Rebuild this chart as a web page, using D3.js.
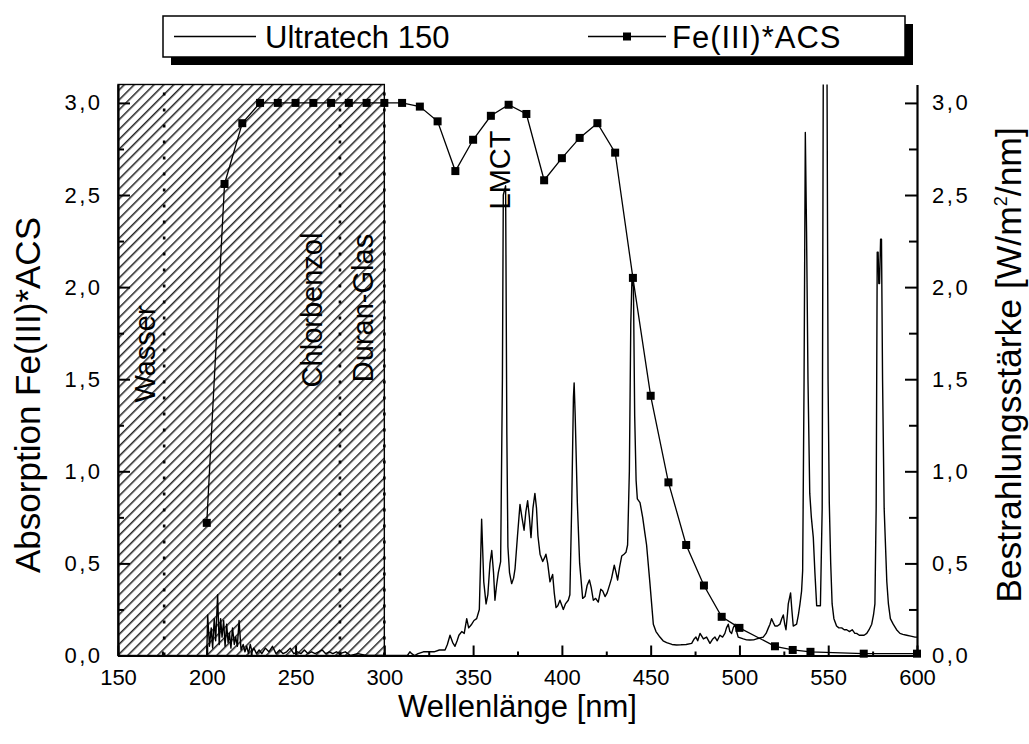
<!DOCTYPE html>
<html>
<head>
<meta charset="utf-8">
<script src="https://cdn.jsdelivr.net/npm/d3@7"></script>
<style>
  html, body { margin: 0; padding: 0; background: #fff; }
  svg { display: block; font-family: "Liberation Sans", Arial, sans-serif; }
</style>
</head>
<body>
<svg id="chart" width="1029" height="744"></svg>
<script>
// ---------------- data ----------------
const xTicks = [150, 200, 250, 300, 350, 400, 450, 500, 550, 600];
const yTicks = [0, 0.5, 1.0, 1.5, 2.0, 2.5, 3.0];

// Fe(III)*ACS absorption (left axis)
const feX = [200, 210, 220, 230, 240, 250, 260, 270, 280, 290, 300, 310, 320, 330, 340, 350, 360, 370, 380, 390, 400, 410, 420, 430, 440, 450, 460, 470, 480, 490, 500, 520, 530, 540, 570, 600];
const feY = [0.72, 2.56, 2.89, 3.0, 3.0, 3.0, 3.0, 3.0, 3.0, 3.0, 3.0, 3.0, 2.98, 2.90, 2.63, 2.80, 2.93, 2.99, 2.94, 2.58, 2.70, 2.81, 2.89, 2.73, 2.05, 1.41, 0.94, 0.60, 0.38, 0.21, 0.15, 0.05, 0.03, 0.02, 0.01, 0.01];

// Ultratech 150 irradiance (right axis)
const specX = [200, 200.5, 201.5, 202.5, 203.3, 204.2, 205, 206.1, 207, 207.8, 208.6, 209.5, 210.3, 211.2, 212, 212.8, 213.6, 214.5, 215.5, 216.3, 217.2, 218.2, 219.3, 220.5, 221.5, 222.5, 223.5, 224.5, 225.5, 226.5, 228, 229.5, 231, 233, 235, 237, 239, 241, 243, 245, 247, 249, 251, 253, 255, 257, 259, 261, 263, 265, 267, 269, 271, 273, 275, 278, 281, 285, 290, 295, 300, 305, 310, 313, 314.4, 315.4, 317, 319, 322, 325, 328, 331, 334.2, 335.5, 337, 338.5, 339.8, 341, 342, 343.6, 345, 346.4, 347.5, 349.2, 350.5, 352, 353.5, 354.8, 356, 357.3, 358.3, 359.5, 360.5, 361.5, 362.3, 363.2, 364.2, 365.5, 366.5, 367, 368.3, 369, 369.6, 370.5, 371.7, 372.8, 373.6, 375, 376.4, 377.5, 378.7, 379.7, 380.7, 381.7, 382.6, 383.7, 384.8, 385.7, 386.5, 387.7, 389.2, 390.2, 391, 392, 393.3, 394.8, 395.7, 396.7, 397.7, 398.9, 400.8, 402, 403.6, 404.5, 405.5, 406.5, 406.9, 407.5, 408.7, 410, 411.7, 413, 414.2, 415.5, 416.5, 417.7, 419, 420.5, 421.9, 423, 424.3, 425.5, 427.1, 428, 429.5, 430.5, 431.4, 432.5, 433.7, 435, 436.1, 437, 438, 438.8, 439.5, 440.3, 441, 441.8, 442.5, 444, 445.5, 446.8, 447.7, 449.6, 451.5, 453, 455.2, 457, 459, 462, 464.6, 467, 470, 473.1, 474.5, 475.5, 476.5, 477.8, 479.7, 481.5, 483.4, 485, 486.2, 487.5, 489, 490.5, 491.8, 492.7, 493.7, 494.6, 495.6, 496.5, 497.5, 498.4, 499.3, 502.2, 504, 505.9, 508, 509.7, 511.5, 513.4, 515, 516.3, 517.2, 518.1, 519, 520, 521.4, 522.8, 523.8, 524.7, 525.5, 526.2, 527, 527.5, 528.8, 529.5, 530.3, 532.2, 533.2, 534.1, 535, 535.6, 536.4, 537.1, 537.8, 538.6, 539.6, 540.5, 541.6, 542.5, 543.5, 544.5, 545.6, 546.6, 547.3, 549.2, 549.9, 550.6, 551.4, 552.2, 553.2, 554.7, 556, 557.6, 559, 560.4, 562, 563.5, 565, 566, 567.5, 568.8, 570.2, 571.7, 573, 574.5, 575.5, 576.3, 577, 577.6, 578.1, 578.5, 578.9, 579.5, 580, 580.6, 581.5, 583, 583.9, 585, 586.6, 588.5, 590.4, 592, 594.2, 596.5, 598.9, 600];
const specY = [0.0, 0.22, 0.05, 0.15, 0.04, 0.2, 0.08, 0.33, 0.06, 0.2, 0.1, 0.19, 0.05, 0.17, 0.07, 0.12, 0.04, 0.15, 0.06, 0.1, 0.05, 0.19, 0.03, 0.06, 0.02, 0.05, 0.01, 0.06, 0.02, 0.04, 0.01, 0.03, 0.01, 0.04, 0.02, 0.05, 0.01, 0.03, 0.01, 0.02, 0.04, 0.01, 0.02, 0.01, 0.03, 0.01, 0.02, 0.01, 0.02, 0.03, 0.01, 0.02, 0.01, 0.02, 0.01, 0.02, 0.0, 0.01, 0.0, 0.0, 0.0, 0.0, 0.0, 0.0, 0.02, 0.01, 0.0, 0.01, 0.02, 0.02, 0.02, 0.03, 0.03, 0.06, 0.11, 0.07, 0.05, 0.08, 0.11, 0.13, 0.12, 0.2, 0.15, 0.17, 0.19, 0.2, 0.25, 0.74, 0.4, 0.28, 0.33, 0.50, 0.57, 0.45, 0.30, 0.38, 0.45, 0.51, 1.5, 2.5, 2.55, 1.2, 0.59, 0.45, 0.39, 0.42, 0.47, 0.65, 0.82, 0.75, 0.68, 0.78, 0.84, 0.75, 0.64, 0.8, 0.88, 0.8, 0.65, 0.55, 0.51, 0.53, 0.55, 0.5, 0.40, 0.44, 0.34, 0.26, 0.27, 0.30, 0.25, 0.28, 0.30, 0.33, 0.8, 1.4, 1.48, 1.3, 0.83, 0.5, 0.31, 0.32, 0.38, 0.41, 0.37, 0.30, 0.31, 0.29, 0.36, 0.35, 0.32, 0.34, 0.39, 0.42, 0.49, 0.45, 0.41, 0.48, 0.54, 0.55, 0.56, 0.6, 1.0, 1.8, 2.06, 2.0, 1.3, 0.95, 0.85, 0.83, 0.75, 0.66, 0.6, 0.39, 0.17, 0.13, 0.10, 0.08, 0.07, 0.06, 0.057, 0.058, 0.06, 0.066, 0.09, 0.1, 0.08, 0.12, 0.09, 0.10, 0.066, 0.09, 0.10, 0.08, 0.11, 0.1, 0.12, 0.15, 0.17, 0.13, 0.12, 0.15, 0.17, 0.13, 0.10, 0.09, 0.085, 0.084, 0.085, 0.09, 0.095, 0.10, 0.12, 0.15, 0.17, 0.20, 0.18, 0.16, 0.16, 0.17, 0.2, 0.22, 0.17, 0.14, 0.22, 0.28, 0.34, 0.25, 0.16, 0.17, 0.22, 0.28, 0.35, 0.46, 1.5, 2.84, 2.3, 1.5, 0.88, 0.75, 0.64, 0.45, 0.27, 0.27, 0.27, 0.8, 3.5, 3.5, 1.5, 0.83, 0.5, 0.28, 0.2, 0.16, 0.15, 0.15, 0.14, 0.14, 0.13, 0.14, 0.12, 0.12, 0.11, 0.11, 0.11, 0.12, 0.14, 0.17, 0.22, 0.28, 0.8, 2.19, 2.19, 2.02, 2.02, 2.26, 2.26, 1.5, 0.8, 0.4, 0.28, 0.2, 0.17, 0.14, 0.12, 0.115, 0.11, 0.105, 0.10, 0.10];

// hatched (blocked) region and cut-off lines
const hatchRange = [150, 300];
const cutoffX = [176, 275, 300];
const cutoffLabels = ["Wasser", "Chlorbenzol", "Duran-Glas"];
const lmctX = 368;
const legendLabels = ["Ultratech 150", "Fe(III)*ACS"];
const xTitle = "Wellenlänge [nm]";
const yTitleLeft = "Absorption Fe(III)*ACS";

// ---------------- layout ----------------
const svg = d3.select("#chart");
const X0 = 118, X1 = 917, Y0 = 655.5, Y1 = 84.5;
const x = d3.scaleLinear().domain([150, 600]).range([X0, X1]);
const yL = d3.scaleLinear().domain([0, 3.1]).range([Y0, Y1]);
const yR = d3.scaleLinear().domain([0, 3.1]).range([Y0, Y1]);
const fmt = d => d3.format(".1f")(d).replace(".", ",");

const defs = svg.append("defs");
const pat = defs.append("pattern").attr("id", "hatch")
  .attr("patternUnits", "userSpaceOnUse").attr("width", 7).attr("height", 7)
  .attr("patternTransform", "rotate(45)");
pat.append("line").attr("x1", 0.8).attr("y1", -1).attr("x2", 0.8).attr("y2", 8)
  .attr("stroke", "#000").attr("stroke-width", 1.3);
defs.append("clipPath").attr("id", "plotclip").append("rect")
  .attr("x", X0).attr("y", Y1).attr("width", X1 - X0).attr("height", Y0 - Y1);

// hatched region
svg.append("rect")
  .attr("x", x(hatchRange[0])).attr("y", Y1)
  .attr("width", x(hatchRange[1]) - x(hatchRange[0])).attr("height", Y0 - Y1)
  .attr("fill", "url(#hatch)").attr("stroke", "#000").attr("stroke-width", 1.4);

// dotted cut-off lines
svg.selectAll("line.cut").data(cutoffX).join("line").attr("class", "cut")
  .attr("x1", d => x(d)).attr("x2", d => x(d)).attr("y1", Y0).attr("y2", Y1 + 4)
  .attr("stroke", "#000").attr("stroke-width", 2.6).attr("stroke-dasharray", "3,13");

// spectrum
const plot = svg.append("g").attr("clip-path", "url(#plotclip)");
const specData = specX.map((v, i) => [v, specY[i]]);
plot.append("path").datum(specData)
  .attr("fill", "none").attr("stroke", "#000").attr("stroke-width", 1.4)
  .attr("stroke-linejoin", "round")
  .attr("d", d3.line().x(d => x(d[0])).y(d => yR(d[1])));

// Fe(III)*ACS
const feData = feX.map((v, i) => [v, feY[i]]);
svg.append("path").datum(feData)
  .attr("fill", "none").attr("stroke", "#000").attr("stroke-width", 1.3)
  .attr("d", d3.line().x(d => x(d[0])).y(d => yL(d[1])));
svg.selectAll("rect.mk").data(feData).join("rect").attr("class", "mk")
  .attr("x", d => x(d[0]) - 4).attr("y", d => yL(d[1]) - 4)
  .attr("width", 8).attr("height", 8).attr("fill", "#000");

// annotations
const annY = [354, 310, 308];
const annBase = [155, 322, 373];
cutoffLabels.forEach((t, i) => {
  svg.append("text").attr("transform", `translate(${annBase[i]},${annY[i]}) rotate(-90)`)
    .attr("text-anchor", "middle").attr("font-size", 29).text(t);
});
svg.append("text").attr("transform", `translate(${x(lmctX) + 5},170) rotate(-90)`)
  .attr("text-anchor", "middle").attr("font-size", 29).text("LMCT");

// axes
function styleAxis(g) {
  g.selectAll(".domain").attr("stroke-width", 2.2);
  g.selectAll(".tick line").attr("stroke-width", 2);
  g.selectAll(".tick text").attr("font-size", 22).attr("font-family", "Liberation Sans, Arial, sans-serif").attr("fill", "#000");
}
function spacedComma(g) {
  g.selectAll(".tick text").each(function (d) {
    const s = fmt(d).split(",");
    const t = d3.select(this).text("");
    t.append("tspan").text(s[0]);
    t.append("tspan").attr("dx", 2.5).text(",");
    t.append("tspan").attr("dx", 2.5).text(s[1]);
  });
}
const minorX = d3.range(150, 601, 25).filter(v => v % 50 !== 0);
const minorY = d3.range(0.25, 3.01, 0.5);

svg.append("g").attr("transform", `translate(0,${Y0})`)
  .call(d3.axisBottom(x).tickValues(minorX).tickSize(-4).tickFormat(""))
  .call(g => g.select(".domain").remove())
  .call(styleAxis);
svg.append("g").attr("transform", `translate(0,${Y0})`)
  .call(d3.axisBottom(x).tickValues(xTicks).tickSizeInner(-10).tickSizeOuter(0).tickPadding(14).tickFormat(d3.format("d")))
  .call(styleAxis);

svg.append("g").attr("transform", `translate(${X0},0)`)
  .call(d3.axisLeft(yL).tickValues(minorY).tickSize(-6).tickFormat(""))
  .call(g => g.select(".domain").remove())
  .call(styleAxis);
svg.append("g").attr("transform", `translate(${X0},0)`)
  .call(d3.axisLeft(yL).tickValues(yTicks).tickSizeInner(-12).tickSizeOuter(0).tickPadding(18).tickFormat(fmt))
  .call(styleAxis).call(spacedComma);

svg.append("g").attr("transform", `translate(${X1},0)`)
  .call(d3.axisRight(yR).tickValues(minorY).tickSize(-8).tickFormat(""))
  .call(g => g.select(".domain").remove())
  .call(styleAxis);
svg.append("g").attr("transform", `translate(${X1},0)`)
  .call(d3.axisRight(yR).tickValues(yTicks).tickSizeInner(-12).tickSizeOuter(0).tickPadding(15).tickFormat(fmt))
  .call(styleAxis).call(spacedComma);

// axis titles
svg.append("text").attr("x", (X0 + X1) / 2).attr("y", 717).attr("text-anchor", "middle")
  .attr("font-size", 31).text(xTitle);
svg.append("text").attr("transform", `translate(40,395) rotate(-90)`)
  .attr("text-anchor", "middle").attr("font-size", 35).text(yTitleLeft);
const rt = svg.append("text").attr("transform", `translate(1021,365) rotate(-90)`)
  .attr("text-anchor", "middle").attr("font-size", 35.5);
rt.append("tspan").text("Bestrahlungsstärke [W/m");
rt.append("tspan").attr("font-size", 18).attr("dy", -14).text("2");
rt.append("tspan").attr("dy", 14).text("/nm]");

// legend
const LX = 163, LY = 16, LW = 742, LH = 41;
svg.append("rect").attr("x", LX + 8).attr("y", LY + 8).attr("width", LW).attr("height", LH).attr("fill", "#000");
svg.append("rect").attr("x", LX).attr("y", LY).attr("width", LW).attr("height", LH)
  .attr("fill", "#fff").attr("stroke", "#000").attr("stroke-width", 1.5);
const ly = LY + LH / 2;
svg.append("line").attr("x1", 174).attr("x2", 256).attr("y1", ly).attr("y2", ly).attr("stroke", "#000").attr("stroke-width", 1.3);
svg.append("text").attr("x", 265).attr("y", ly + 11).attr("font-size", 31).text(legendLabels[0]);
svg.append("line").attr("x1", 588).attr("x2", 666).attr("y1", ly).attr("y2", ly).attr("stroke", "#000").attr("stroke-width", 1.3);
svg.append("rect").attr("x", 623).attr("y", ly - 4).attr("width", 8).attr("height", 8).attr("fill", "#000");
svg.append("text").attr("x", 672).attr("y", ly + 11).attr("font-size", 31).attr("letter-spacing", 1).text(legendLabels[1]);
</script>
</body>
</html>
